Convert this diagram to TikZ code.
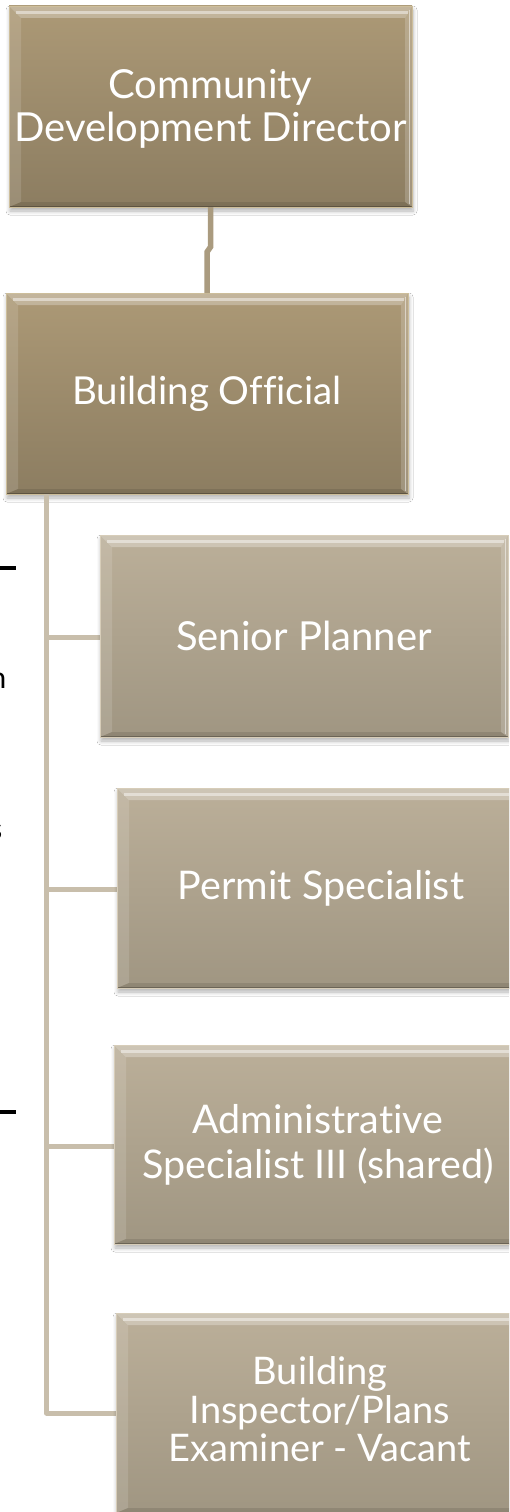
\documentclass[tikz,border=0pt]{standalone}
\usepackage{fontspec}
\setmainfont{Lato}[Ligatures=NoCommon]
\usetikzlibrary{shadows.blur,calc}

% palette
\definecolor{faceTopA}{RGB}{172,153,118}
\definecolor{faceBotA}{RGB}{140,125,97}
\definecolor{faceTopB}{RGB}{187,175,153}
\definecolor{faceBotB}{RGB}{160,150,130}
\definecolor{rimA}{RGB}{205,190,155}
\definecolor{rimB}{RGB}{215,205,185}
\definecolor{linkA}{RGB}{170,155,127}
\definecolor{trunkC}{RGB}{200,190,171}

\tikzset{
  % bevelled card with soft shadow
  card/.style={
    rectangle, inner sep=0pt, outer sep=0pt, align=center, text=white,
    blur shadow={shadow xshift=1pt, shadow yshift=-4pt,
                 shadow blur radius=4pt, shadow blur steps=6, shadow opacity=30},
    path picture={
      \path (path picture bounding box.north west) coordinate (pnw)
            (path picture bounding box.north east) coordinate (pne)
            (path picture bounding box.south west) coordinate (psw)
            (path picture bounding box.south east) coordinate (pse);
      % top bevel
      \fill[white, opacity=0.28] (pnw) -- (pne) -- ([shift={(-7pt,-12pt)}]pne)
            -- ([shift={(12pt,-12pt)}]pnw) -- cycle;
      \draw[white, opacity=0.45, line width=2.5pt]
            ([shift={(7pt,-6.5pt)}]pnw) -- ([shift={(-4pt,-6.5pt)}]pne);
      % left bevel
      \fill[white, opacity=0.13] (pnw) -- ([shift={(12pt,-12pt)}]pnw)
            -- ([shift={(12pt,5pt)}]psw) -- (psw) -- cycle;
      % right bevel
      \fill[white, opacity=0.18] (pne) -- ([shift={(-7pt,-12pt)}]pne)
            -- ([shift={(-7pt,5pt)}]pse) -- (pse) -- cycle;
      \draw[white, opacity=0.5, line width=1.5pt]
            ([shift={(-2.5pt,-4pt)}]pne) -- ([shift={(-2.5pt,3pt)}]pse);
      % bottom bevel
      \fill[black, opacity=0.10] (psw) -- ([shift={(12pt,5pt)}]psw)
            -- ([shift={(-7pt,5pt)}]pse) -- (pse) -- cycle;
      \draw[black, opacity=0.25, line width=1pt]
            ([shift={(0pt,0.5pt)}]psw) -- ([shift={(0pt,0.5pt)}]pse);
    }
  },
  headcard/.style={card, top color=faceTopA, bottom color=faceBotA,
    draw=rimA, line width=0.8pt},
  staffcard/.style={card, top color=faceTopB, bottom color=faceBotB,
    draw=rimB, line width=0.8pt},
  uplink/.style={draw=linkA, line width=5.5pt},
  branch/.style={draw=trunkC, line width=5pt, line join=round},
  stub/.style={draw=black, line width=4pt}
}

\begin{document}
\begin{tikzpicture}[x=1pt, y=-1pt]
  \useasboundingbox (0,0) rectangle (509,1512);
  \clip (0,0) rectangle (509,1512);
  \fill[white] (0,0) rectangle (509,1512);

  % fragments at the left margin
  \coordinate (s1a) at (0,568);    \coordinate (s1b) at (16,568);
  \coordinate (s2a) at (0,1112);   \coordinate (s2b) at (16,1112);
  \draw[stub] (s1a) -- (s1b);
  \draw[stub] (s2a) -- (s2b);
  \node[anchor=base east, inner sep=0pt, font=\fontsize{30}{30}\selectfont] (fragn) at (6.5,688) {n};
  \node[anchor=base east, inner sep=0pt, font=\fontsize{30}{30}\selectfont] (frags) at (2.5,839) {s};

  % connector way points
  \coordinate (bend1) at (210.5,247);
  \coordinate (bend2) at (207,252);
  \coordinate (trunk) at (46.5,494);

  % cards
  \node[headcard, minimum width=403pt, minimum height=201pt, text depth=1.5pt,
        font=\fontsize{40}{43}\selectfont] (dir) at (210.5,106.5)
     {Community\\Development Director};
  \node[headcard, minimum width=402pt, minimum height=201pt,
        font=\fontsize{38.5}{43}\selectfont] (bo) at (207,393.5)
     {Building Official};

  \draw[branch] (trunk) |- (304,637) coordinate (spin);
  \draw[branch] (trunk) |- (321,889) coordinate (psin);
  \draw[branch] (trunk) |- (318,1146) coordinate (asin);
  \draw[branch] (trunk) |- (320,1413) coordinate (biin);

  \node[staffcard, minimum width=408pt, minimum height=202pt,
        font=\fontsize{40}{44}\selectfont] (sp) at (304,636)
     {Senior Planner};
  \node[staffcard, minimum width=408pt, minimum height=200pt,
        font=\fontsize{39.5}{44}\selectfont] (ps) at (321,888)
     {Permit Specialist};
  \node[staffcard, minimum width=408pt, minimum height=199pt,
        font=\fontsize{39.5}{45}\selectfont] (as) at (318,1144.5)
     {Administrative\\Specialist III (shared)};
  \node[staffcard, minimum width=408pt, minimum height=200pt, text depth=8pt,
        font=\fontsize{38}{38.5}\selectfont] (bi) at (320,1413)
     {Building\\Inspector/Plans\\Examiner - Vacant};

  \draw[uplink] (dir.south) -- (bend1) -- (bend2) -- (bo.north);
\end{tikzpicture}
\end{document}
